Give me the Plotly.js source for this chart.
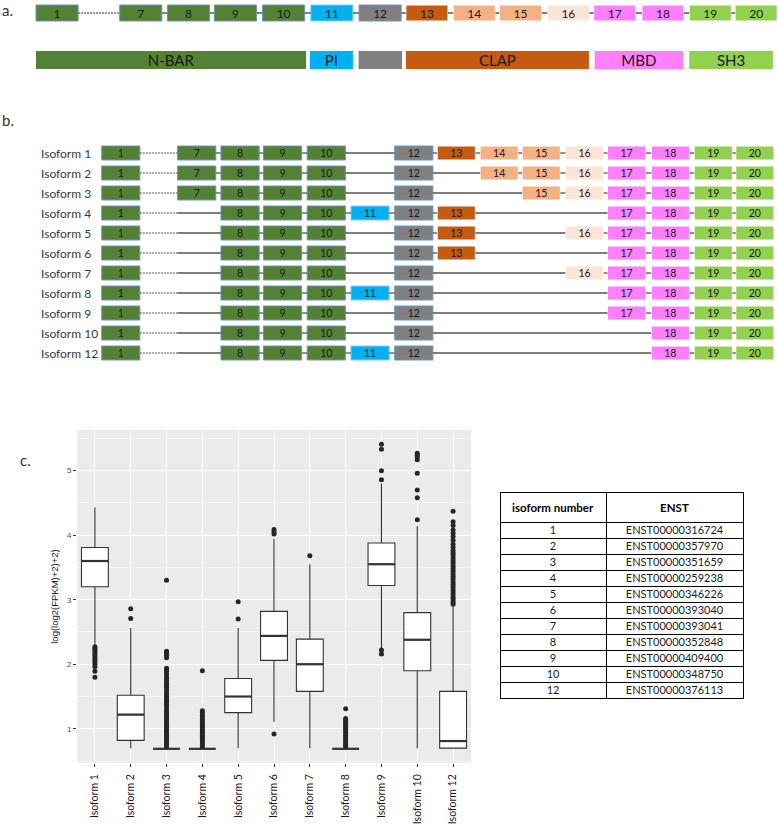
<!DOCTYPE html>
<html><head><meta charset="utf-8">
<script src="https://cdn.plot.ly/plotly-3.0.1.min.js"></script>
<style>html,body{margin:0;padding:0;background:#fff}#chart{width:778px;height:824px}</style>
</head><body><div id="chart"></div>
<script>
// ---------- DATA ----------
// exon order and relative locus (in exon-slot units) along the transcript diagram
const exonIds    = [1, 7, 8, 9, 10, 11, 12, 13, 14, 15, 16, 17, 18, 19, 20];
const exonLocus  = [0, 1.77, 2.78, 3.77, 4.79, 5.81, 6.83, 7.82, 8.82, 9.80, 10.81, 11.79, 12.81, 13.81, 14.78];
const exonLength = 0.89;

// protein domains (same slot units)
const domainNames = ['N-BAR', 'PI', '', 'CLAP', 'MBD', 'SH3'];
const domainStart = [0, 5.79, 6.82, 7.82, 11.81, 13.81];
const domainEnd   = [5.71, 6.70, 7.74, 11.69, 13.68, 15.58];

// isoforms and their exons
const isoformNames = ['Isoform 1','Isoform 2','Isoform 3','Isoform 4','Isoform 5','Isoform 6',
                      'Isoform 7','Isoform 8','Isoform 9','Isoform 10','Isoform 12'];
const isoformExons = [
  [1,7,8,9,10,12,13,14,15,16,17,18,19,20],
  [1,7,8,9,10,12,14,15,16,17,18,19,20],
  [1,7,8,9,10,12,15,16,17,18,19,20],
  [1,8,9,10,11,12,13,17,18,19,20],
  [1,8,9,10,12,13,16,17,18,19,20],
  [1,8,9,10,12,13,17,18,19,20],
  [1,8,9,10,12,16,17,18,19,20],
  [1,8,9,10,11,12,17,18,19,20],
  [1,8,9,10,12,17,18,19,20],
  [1,8,9,10,12,18,19,20],
  [1,8,9,10,11,12,18,19,20]
];

// table
const tableHeader = ['isoform number', 'ENST'];
const isoformNumbers = ['1','2','3','4','5','6','7','8','9','10','12'];
const enstIds = ['ENST00000316724','ENST00000357970','ENST00000351659','ENST00000259238',
                 'ENST00000346226','ENST00000393040','ENST00000393041','ENST00000352848',
                 'ENST00000409400','ENST00000348750','ENST00000376113'];

// box plot statistics: log(log2(FPKM)+2)+2)
const boxLowerFence = [2.30, 0.70, 0.69, 0.69, 0.70, 1.11, 0.70, 0.69, 2.25, 0.70, 0.70];
const boxQ1         = [3.20, 0.82, 0.69, 0.69, 1.25, 2.06, 1.58, 0.69, 3.22, 1.90, 0.70];
const boxMedian     = [3.60, 1.22, 0.69, 0.69, 1.50, 2.44, 2.00, 0.69, 3.55, 2.38, 0.81];
const boxQ3         = [3.81, 1.52, 0.69, 0.69, 1.78, 2.82, 2.39, 0.69, 3.88, 2.80, 1.58];
const boxUpperFence = [4.43, 2.56, 0.69, 0.69, 2.56, 3.94, 3.55, 0.69, 4.80, 4.14, 2.90];
const outliers = [
  [2.27,2.25,2.22,2.19,2.16,2.13,2.10,2.07,2.04,2.00,1.96,1.89,1.80],
  [2.86,2.71],
  [3.30,2.20,2.17,2.14,2.10,1.94,1.91,1.88,1.84,1.80,1.77,1.74,1.70,1.67,1.64,1.60,1.56,1.53,1.50,
   1.47,1.44,1.41,1.38,1.34,1.30,1.26,1.23,1.20,1.17,1.14,1.11,1.08,1.05,1.02,0.99,0.96,0.93,0.90,
   0.87,0.84,0.81,0.78,0.75,0.72],
  [1.90,1.28,1.25,1.21,1.17,1.14,1.11,1.08,1.05,1.02,0.99,0.96,0.93,0.90,0.87,0.84,0.81,0.78,0.75,0.72],
  [2.97,2.70],
  [4.09,4.05,4.02,0.92],
  [3.68],
  [1.31,1.16,1.13,1.10,1.07,1.04,1.01,0.98,0.95,0.92,0.89,0.86,0.83,0.80,0.77,0.74,0.72],
  [5.41,5.33,5.00,4.86,2.22,2.16],
  [5.27,5.24,5.21,5.17,4.96,4.70,4.58,4.24],
  [4.37,4.21,4.15,4.08,4.03,3.98,3.92,3.86,3.81,3.76,3.72,3.68,3.64,3.60,3.56,3.52,3.48,3.44,3.40,
   3.36,3.32,3.28,3.24,3.20,3.16,3.12,3.08,3.04,3.00,2.96,2.93]
];

// ---------- STYLES ----------
const GREEN='#548235', BLUE='#00B0F0', GRAY='#7F7F7F', BROWN='#C55A11', PEACH='#F4B183',
      PALE='#FBE5D6', PINK='#FF80FF', LIME='#92D050';
const exonColor = {1:GREEN,7:GREEN,8:GREEN,9:GREEN,10:GREEN,11:BLUE,12:GRAY,13:BROWN,14:PEACH,15:PEACH,
                   16:PALE,17:PINK,18:PINK,19:LIME,20:LIME};
const exonEdge = id => (exonColor[id]===GREEN || exonColor[id]===GRAY) ? '#6F93BF' :
                       (exonColor[id]===BLUE ? '#7FD3F5' : '#FFFFFF');
const domainColors = [GREEN, BLUE, '#808080', BROWN, PINK, LIME];
const FONT = 'Lato, "Open Sans", sans-serif';

const locusOf = id => exonLocus[exonIds.indexOf(id)];

const traces = [];

// ---------- PANEL A ----------
{
  const sx=[], sy=[];
  for (let i=0;i<exonIds.length-1;i++){
    if (exonIds[i]===1) continue;
    sx.push(exonLocus[i]+exonLength, exonLocus[i+1], null); sy.push(0,0,null);
  }
  traces.push({type:'scatter', mode:'lines', x:sx, y:sy, xaxis:'x2', yaxis:'y2',
    line:{color:'#808080', width:2}, hoverinfo:'skip'});
  traces.push({type:'scatter', mode:'lines', x:[locusOf(1)+exonLength, locusOf(7)], y:[0,0],
    xaxis:'x2', yaxis:'y2', line:{color:'#707070', width:1.5, dash:'2px,1px'}, hoverinfo:'skip'});
  traces.push({type:'bar', orientation:'h', xaxis:'x2', yaxis:'y2',
    y: exonIds.map(()=>0), base: exonLocus, x: exonIds.map(()=>exonLength), width:0.34,
    text: exonIds.map(String), textposition:'inside', insidetextanchor:'middle', textangle:0,
    constraintext:'none', cliponaxis:false,
    insidetextfont:{family:FONT, size:12, color:'#1a1a1a'},
    marker:{color: exonIds.map(id=>exonColor[id]), line:{color: exonIds.map(exonEdge), width:1}},
    hoverinfo:'skip'});
  traces.push({type:'bar', orientation:'h', xaxis:'x2', yaxis:'y2',
    y: domainNames.map(()=>1), base: domainStart, x: domainEnd.map((e,i)=>e-domainStart[i]), width:0.383,
    text: domainNames, textposition:'inside', insidetextanchor:'middle', textangle:0,
    constraintext:'none', cliponaxis:false,
    insidetextfont:{family:FONT, size:15, color:'#1a1a1a'},
    marker:{color: domainColors, line:{width:0}}, hoverinfo:'skip'});
}

// ---------- PANEL B ----------
{
  const sx=[], sy=[], dx=[], dy=[];
  const by=[], bb=[], bt=[], bc=[], be=[];
  isoformExons.forEach((exs, r)=>{
    for (let k=0;k<exs.length-1;k++){
      const a=exs[k], b=exs[k+1];
      const s=locusOf(a)+exonLength, e=locusOf(b);
      if (a===1){
        dx.push(s, locusOf(7), null); dy.push(r,r,null);
        if (b!==7){ sx.push(locusOf(7), e, null); sy.push(r,r,null); }
      } else { sx.push(s,e,null); sy.push(r,r,null); }
    }
    exs.forEach(id=>{ by.push(r); bb.push(locusOf(id)); bt.push(String(id)); bc.push(exonColor[id]); be.push(exonEdge(id)); });
  });
  traces.push({type:'scatter', mode:'lines', x:sx, y:sy, xaxis:'x3', yaxis:'y3',
    line:{color:'#555555', width:1.3}, hoverinfo:'skip'});
  traces.push({type:'scatter', mode:'lines', x:dx, y:dy, xaxis:'x3', yaxis:'y3',
    line:{color:'#555555', width:1, dash:'2px,1px'}, hoverinfo:'skip'});
  traces.push({type:'bar', orientation:'h', xaxis:'x3', yaxis:'y3',
    y: by, base: bb, x: by.map(()=>exonLength), width:0.7,
    text: bt, textposition:'inside', insidetextanchor:'middle', textangle:0,
    constraintext:'none', cliponaxis:false,
    insidetextfont:{family:FONT, size:10.5, color:'#1a1a1a'},
    marker:{color: bc, line:{color: be, width:1}}, hoverinfo:'skip'});
}

// ---------- PANEL C: box plot ----------
const pos = isoformNames.map((_,i)=>i+1);
const BOXW = 0.75;
traces.push({type:'box', x: pos, q1: boxQ1, median: boxMedian, q3: boxQ3,
  lowerfence: boxLowerFence, upperfence: boxUpperFence, width: BOXW, whiskerwidth: 0,
  boxpoints: false, fillcolor:'#ffffff', line:{color:'#333333', width:1.1},
  xaxis:'x', yaxis:'y', hoverinfo:'skip'});
{
  const mx=[], my=[];
  boxMedian.forEach((m,i)=>{ mx.push(pos[i]-BOXW/2, pos[i]+BOXW/2, null); my.push(m,m,null); });
  traces.push({type:'scatter', mode:'lines', x:mx, y:my, line:{color:'#333333', width:2.2},
    xaxis:'x', yaxis:'y', hoverinfo:'skip'});
  const ox=[], oy=[];
  outliers.forEach((arr,i)=>arr.forEach(v=>{ ox.push(pos[i]); oy.push(v); }));
  traces.push({type:'scatter', mode:'markers', x:ox, y:oy,
    marker:{color:'#262626', size:5, line:{width:0}}, xaxis:'x', yaxis:'y', hoverinfo:'skip'});
}

// ---------- TABLE (grid + header, then body text nudged to centre in the short rows) ----------
const TBL_X = [500/778, 743/778];
const TBL_TOP = 1 - 492.7/824, TBL_BOT = 124/824, TEXT_NUDGE = 5/824;
traces.push({type:'table',
  domain:{x:TBL_X, y:[TBL_BOT, TBL_TOP]},
  columnwidth:[106, 137],
  header:{values:tableHeader.map(h=>'<b>'+h+'</b>'), height:30, align:'center',
    line:{color:'#000000', width:1}, fill:{color:'#ffffff'},
    font:{family:FONT, size:11.5, color:'#000000'}},
  cells:{values:[isoformNumbers.map(()=>''), enstIds.map(()=>'')], height:16, align:'center',
    line:{color:'#000000', width:1}, fill:{color:'#ffffff'},
    font:{family:FONT, size:11, color:'#1a1a1a'}}
});
traces.push({type:'table',
  domain:{x:TBL_X, y:[TBL_BOT+TEXT_NUDGE, TBL_TOP+TEXT_NUDGE]},
  columnwidth:[106, 137],
  header:{values:['',''], height:30, align:'center',
    line:{color:'rgba(0,0,0,0)', width:0}, fill:{color:'rgba(0,0,0,0)'},
    font:{family:FONT, size:11.5, color:'rgba(0,0,0,0)'}},
  cells:{values:[isoformNumbers, enstIds], height:16, align:'center',
    line:{color:'rgba(0,0,0,0)', width:0}, fill:{color:'rgba(0,0,0,0)'},
    font:{family:FONT, size:11, color:'#1a1a1a'}}
});

const layout = {
  width:778, height:824, margin:{l:0,r:0,t:0,b:0},
  paper_bgcolor:'#ffffff', plot_bgcolor:'rgba(0,0,0,0)',
  showlegend:false, barmode:'overlay',
  font:{family:FONT, color:'#1a1a1a'},
  // panel c axes
  xaxis:{domain:[77/778, 471/778], anchor:'y', range:[0.5, 11.5],
    tickmode:'array', tickvals:pos, ticktext:isoformNames, tickangle:-90,
    tickfont:{family:FONT, size:10.5, color:'#1a1a1a'}, ticklabelstandoff:3,
    ticks:'outside', ticklen:3, tickcolor:'#333333', tickwidth:1,
    showgrid:true, gridcolor:'#ffffff', gridwidth:1, zeroline:false, showline:false},
  yaxis:{domain:[61/824, 394/824], anchor:'x', range:[0.47, 5.63],
    tickmode:'linear', tick0:0, dtick:1,
    tickfont:{family:'"Liberation Sans", Arial, sans-serif', size:8, color:'#4d4d4d'},
    ticks:'outside', ticklen:3, tickcolor:'#333333', tickwidth:1,
    showgrid:true, gridcolor:'#ffffff', gridwidth:1, zeroline:false, showline:false,
    minor:{dtick:0.5, tick0:0, showgrid:true, gridcolor:'#ffffff', gridwidth:0.5, ticks:''},
    title:{text:'log(log2(FPKM)+2)+2)', standoff:6,
      font:{family:'"Liberation Sans", Arial, sans-serif', size:9.5, color:'#1a1a1a'}}},
  // panel a axes
  xaxis2:{domain:[0,1], anchor:'y2', range:[-0.7611, 15.687], visible:false},
  yaxis2:{domain:[0,1], anchor:'x2', range:[17.255, -0.2766], visible:false},
  // panel b axes
  xaxis3:{domain:[93/778,1], anchor:'y3', range:[-0.2028, 15.764], visible:false},
  yaxis3:{domain:[0,1], anchor:'x3', range:[33.55, -7.65], visible:false},
  shapes:[{type:'rect', xref:'x domain', yref:'y domain', x0:0, x1:1, y0:0, y1:1,
    fillcolor:'#EBEBEB', line:{width:0}, layer:'below'}],
  annotations:[
    {text:'a.', xref:'paper', yref:'paper', x:0, y:1-10/824, xanchor:'left', yanchor:'middle',
      showarrow:false, font:{family:FONT, size:15, color:'#333333'}},
    {text:'b.', xref:'paper', yref:'paper', x:0, y:1-120/824, xanchor:'left', yanchor:'middle',
      showarrow:false, font:{family:FONT, size:15, color:'#333333'}},
    {text:'c.', xref:'paper', yref:'paper', x:18/778, y:1-460/824, xanchor:'left', yanchor:'middle',
      showarrow:false, font:{family:FONT, size:15, color:'#333333'}}
  ].concat(isoformNames.map((n,i)=>({text:n, xref:'paper', yref:'y3', x:39/778, y:i,
      xanchor:'left', yanchor:'middle', showarrow:false,
      font:{family:FONT, size:12, color:'#3a3a3a'}})))
};

Plotly.newPlot('chart', traces, layout, {staticPlot:true, displayModeBar:false});
</script></body></html>
